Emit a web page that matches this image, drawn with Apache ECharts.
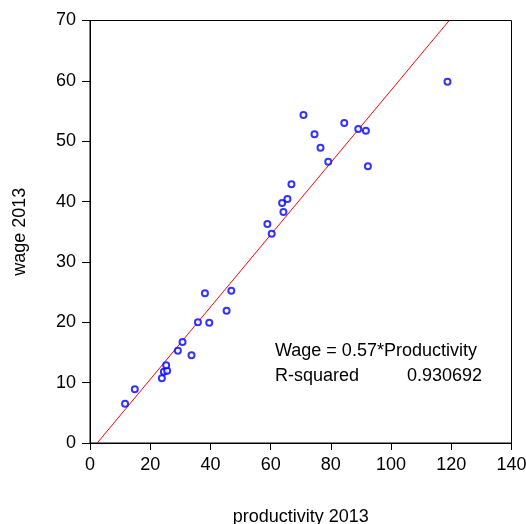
<!DOCTYPE html>
<html><head><meta charset="utf-8">
<script src="https://cdn.jsdelivr.net/npm/echarts@6/dist/echarts.min.js"></script>
<style>html,body{margin:0;padding:0;background:#fff}#c{width:526px;height:524px}</style>
</head><body><div id="c"></div>
<script>
const productivity = [11.65,14.88,23.87,24.53,25.63,25.30,29.19,30.73,33.72,35.85,38.18,39.61,45.37,46.94,58.92,60.35,63.81,64.25,65.58,66.91,70.91,74.57,76.56,79.13,84.45,89.11,91.64,92.31,118.74];
const wage = [6.51,8.90,10.72,11.81,11.98,12.87,15.29,16.73,14.53,20.00,24.80,19.93,21.92,25.23,36.28,34.68,39.76,38.27,40.42,42.86,54.34,51.14,48.92,46.60,53.02,52.02,51.74,45.84,59.86];
const fitLineX = [2.4, 119.3];
const fitLineY = [0, 70];
const xTicks = {min:0, max:140, interval:20};
const yTicks = {min:0, max:70, interval:10};
const annotation = ['Wage = 0.57*Productivity', 'R-squared', '0.930692'];

const font = 'Liberation Sans, Arial, sans-serif';
const chart = echarts.init(document.getElementById('c'));
chart.setOption({
  animation:false,
  grid:{left:90,right:14.5,top:20.5,bottom:81,show:true,borderColor:'#000',borderWidth:1,containLabel:false,outerBoundsMode:'none'},
  xAxis:{type:'value',min:xTicks.min,max:xTicks.max,interval:xTicks.interval,
    name:'productivity 2013',nameLocation:'middle',nameGap:65,
    nameTextStyle:{fontFamily:font,fontSize:18,color:'#000'},
    axisLine:{show:true,onZero:false,lineStyle:{color:'#000',width:1}},
    axisTick:{show:true,length:7,lineStyle:{color:'#000'}},
    axisLabel:{fontFamily:font,fontSize:18,color:'#000',margin:13},
    splitLine:{show:false}},
  yAxis:{type:'value',min:yTicks.min,max:yTicks.max,interval:yTicks.interval,
    name:'wage 2013',nameLocation:'middle',nameGap:61,nameRotate:90,
    nameTextStyle:{fontFamily:font,fontSize:18,color:'#000'},
    axisLine:{show:true,onZero:false,lineStyle:{color:'#000',width:1}},
    axisTick:{show:true,length:8,lineStyle:{color:'#000'}},
    axisLabel:{fontFamily:font,fontSize:18,color:'#000',margin:14},
    splitLine:{show:false}},
  series:[
    {type:'line',data:fitLineX.map((x,i)=>[x,fitLineY[i]]),symbol:'none',
      lineStyle:{color:'#ff0000',width:1},z:1},
    {type:'scatter',data:productivity.map((x,i)=>[x,wage[i]]),symbol:'emptyCircle',symbolSize:6,
      itemStyle:{color:'#0000ff',borderColor:'#0000ff',borderWidth:1.4},z:2}
  ],
  graphic:[
    {type:'text',left:275,top:342,style:{text:annotation[0],font:'18px '+font,fill:'#000'}},
    {type:'text',left:275,top:367,style:{text:annotation[1],font:'18px '+font,fill:'#000'}},
    {type:'text',right:44,top:367,style:{text:annotation[2],font:'18px '+font,fill:'#000',textAlign:'right'}}
  ]
});
</script></body></html>
